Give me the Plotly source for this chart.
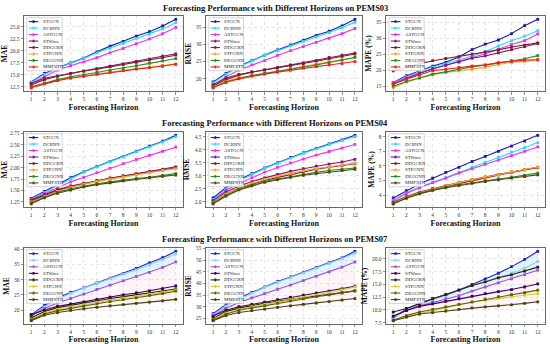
import plotly.graph_objects as go

W, H = 550, 344
horizons = list(range(1, 13))
models = ["STGCN", "DCRNN", "ASTGCN", "STWave", "DDGCRN", "STPGNN", "DEGGNN", "MMFSTN"]
datasets = ["PEMS03", "PEMS04", "PEMS07"]
metrics = ["MAE", "RMSE", "MAPE (%)"]

# ---- PEMS03 ----
p03_mae = {
    "STGCN":  [13.5, 15.3, 16.5, 17.5, 18.5, 19.8, 21.0, 22.0, 23.1, 24.0, 25.2, 26.6],
    "DCRNN":  [13.4, 15.1, 16.4, 17.4, 18.4, 19.6, 20.6, 21.6, 22.6, 23.5, 24.6, 25.9],
    "ASTGCN": [13.2, 14.6, 16.0, 16.9, 17.7, 18.6, 19.6, 20.5, 21.5, 22.5, 23.6, 24.9],
    "STWave": [13.2, 14.3, 14.8, 15.3, 15.8, 16.3, 16.8, 17.3, 17.8, 18.3, 18.9, 19.4],
    "DDGCRN": [12.9, 14.0, 14.7, 15.3, 15.8, 16.2, 16.7, 17.2, 17.6, 18.1, 18.6, 19.1],
    "STPGNN": [12.4, 13.2, 13.9, 14.4, 14.8, 15.2, 15.6, 16.0, 16.3, 16.6, 17.0, 17.3],
    "DEGGNN": [12.5, 13.3, 14.0, 14.6, 15.0, 15.5, 16.0, 16.4, 16.9, 17.4, 17.9, 18.4],
    "MMFSTN": [12.3, 13.1, 13.8, 14.3, 14.7, 15.1, 15.5, 15.9, 16.2, 16.5, 16.8, 17.2],
}
p03_rmse = {
    "STGCN":  [19.0, 21.5, 23.6, 25.3, 26.9, 28.4, 29.9, 31.3, 32.7, 33.9, 35.5, 37.4],
    "DCRNN":  [18.7, 21.3, 23.4, 25.2, 26.8, 28.2, 29.6, 31.0, 32.2, 33.5, 35.0, 36.5],
    "ASTGCN": [18.0, 20.5, 22.5, 24.0, 25.3, 26.8, 28.2, 29.4, 30.6, 31.8, 33.2, 34.7],
    "STWave": [18.2, 20.2, 21.2, 22.0, 22.6, 23.3, 24.0, 24.6, 25.3, 26.2, 26.9, 27.5],
    "DDGCRN": [17.8, 19.7, 21.0, 21.9, 22.5, 23.1, 23.8, 24.4, 25.1, 25.8, 26.5, 27.2],
    "STPGNN": [17.5, 19.2, 20.2, 20.9, 21.6, 22.3, 23.0, 23.6, 24.3, 24.9, 25.5, 26.2],
    "DEGGNN": [17.4, 19.0, 20.0, 20.9, 21.5, 22.2, 22.8, 23.4, 24.0, 24.7, 25.4, 26.2],
    "MMFSTN": [17.3, 18.9, 19.9, 20.7, 21.3, 21.9, 22.5, 23.1, 23.5, 24.0, 24.4, 25.0],
}
p03_mape = {
    "STGCN":  [16.2, 18.3, 19.8, 21.3, 22.5, 24.2, 26.5, 28.2, 29.5, 31.5, 34.0, 36.0],
    "DCRNN":  [16.0, 17.9, 19.6, 21.0, 22.0, 23.2, 24.5, 25.9, 27.6, 29.3, 30.7, 32.4],
    "ASTGCN": [16.0, 17.6, 19.2, 20.4, 21.6, 22.7, 23.9, 25.2, 26.6, 28.1, 29.3, 31.4],
    "STWave": [15.6, 17.4, 19.0, 20.5, 21.6, 22.6, 23.8, 24.5, 25.5, 26.5, 27.4, 28.4],
    "DDGCRN": [19.8, 21.0, 22.0, 23.0, 23.7, 24.2, 25.1, 25.7, 26.4, 27.3, 27.9, 28.6],
    "STPGNN": [14.5, 16.3, 17.5, 18.6, 19.3, 19.8, 20.2, 20.9, 21.8, 22.5, 22.8, 23.3],
    "DEGGNN": [15.0, 16.5, 17.6, 18.8, 19.5, 20.3, 21.1, 21.6, 22.3, 23.0, 23.6, 24.6],
    "MMFSTN": [15.8, 17.2, 18.5, 19.9, 20.3, 20.9, 21.3, 21.7, 22.4, 22.8, 23.2, 23.3],
}
# ---- PEMS04 ----
p04_mae = {
    "STGCN":  [1.33, 1.48, 1.62, 1.78, 1.91, 2.03, 2.14, 2.25, 2.36, 2.47, 2.58, 2.71],
    "DCRNN":  [1.31, 1.46, 1.61, 1.76, 1.90, 2.02, 2.13, 2.24, 2.35, 2.45, 2.56, 2.68],
    "ASTGCN": [1.30, 1.43, 1.56, 1.69, 1.79, 1.89, 1.99, 2.09, 2.18, 2.27, 2.36, 2.45],
    "STWave": [1.29, 1.41, 1.52, 1.60, 1.66, 1.72, 1.77, 1.82, 1.87, 1.92, 1.96, 2.02],
    "DDGCRN": [1.27, 1.39, 1.50, 1.58, 1.65, 1.71, 1.77, 1.82, 1.86, 1.91, 1.95, 2.00],
    "STPGNN": [1.25, 1.37, 1.48, 1.57, 1.64, 1.70, 1.75, 1.80, 1.84, 1.89, 1.94, 1.98],
    "DEGGNN": [1.23, 1.35, 1.46, 1.54, 1.60, 1.65, 1.69, 1.73, 1.76, 1.79, 1.83, 1.87],
    "MMFSTN": [1.21, 1.34, 1.44, 1.51, 1.58, 1.63, 1.67, 1.71, 1.75, 1.78, 1.81, 1.84],
}
p04_rmse = {
    "STGCN":  [2.15, 2.55, 2.85, 3.08, 3.30, 3.50, 3.70, 3.88, 4.05, 4.22, 4.37, 4.55],
    "DCRNN":  [2.10, 2.50, 2.80, 3.05, 3.28, 3.48, 3.68, 3.86, 4.03, 4.20, 4.35, 4.50],
    "ASTGCN": [2.05, 2.45, 2.70, 2.93, 3.14, 3.32, 3.49, 3.64, 3.79, 3.93, 4.06, 4.20],
    "STWave": [2.05, 2.38, 2.60, 2.78, 2.92, 3.05, 3.17, 3.27, 3.37, 3.45, 3.53, 3.63],
    "DDGCRN": [1.98, 2.30, 2.52, 2.68, 2.82, 2.94, 3.05, 3.16, 3.25, 3.33, 3.40, 3.46],
    "STPGNN": [1.97, 2.30, 2.55, 2.72, 2.86, 2.98, 3.09, 3.19, 3.28, 3.35, 3.42, 3.48],
    "DEGGNN": [1.95, 2.25, 2.48, 2.64, 2.78, 2.88, 2.97, 3.06, 3.13, 3.20, 3.25, 3.30],
    "MMFSTN": [1.93, 2.22, 2.46, 2.62, 2.75, 2.85, 2.94, 3.02, 3.08, 3.14, 3.20, 3.25],
}
p04_mape = {
    "STGCN":  [3.80, 4.30, 4.75, 5.15, 5.55, 5.90, 6.30, 6.65, 7.00, 7.35, 7.70, 8.10],
    "DCRNN":  [3.65, 4.15, 4.55, 4.85, 5.20, 5.55, 5.90, 6.25, 6.60, 6.95, 7.25, 7.60],
    "ASTGCN": [3.60, 4.10, 4.50, 4.85, 5.15, 5.50, 5.80, 6.10, 6.40, 6.70, 7.00, 7.30],
    "STWave": [3.50, 3.90, 4.20, 4.45, 4.65, 4.85, 5.05, 5.25, 5.42, 5.58, 5.75, 5.90],
    "DDGCRN": [3.50, 3.85, 4.15, 4.40, 4.60, 4.80, 5.00, 5.20, 5.38, 5.55, 5.72, 5.90],
    "STPGNN": [3.45, 3.85, 4.15, 4.40, 4.65, 4.85, 5.05, 5.22, 5.40, 5.58, 5.75, 5.92],
    "DEGGNN": [3.40, 3.80, 4.10, 4.35, 4.55, 4.70, 4.85, 4.98, 5.10, 5.22, 5.35, 5.50],
    "MMFSTN": [3.40, 3.78, 4.08, 4.32, 4.50, 4.66, 4.80, 4.93, 5.05, 5.16, 5.27, 5.38],
}
# ---- PEMS07 ----
p07_mae = {
    "STGCN":  [18.5, 21.5, 24.0, 25.8, 27.3, 28.9, 30.5, 32.0, 33.7, 35.5, 37.2, 39.3],
    "DCRNN":  [18.2, 21.0, 23.5, 25.5, 27.2, 28.8, 30.3, 31.8, 33.2, 34.8, 36.6, 38.5],
    "ASTGCN": [18.0, 20.5, 22.3, 23.8, 25.2, 26.8, 28.2, 29.6, 31.0, 32.4, 34.0, 35.8],
    "STWave": [18.5, 20.0, 21.2, 22.0, 22.7, 23.5, 24.2, 25.0, 25.6, 26.3, 27.0, 27.9],
    "DDGCRN": [17.5, 19.5, 20.8, 21.6, 22.4, 23.1, 23.8, 24.4, 25.0, 25.6, 26.2, 26.9],
    "STPGNN": [17.0, 19.0, 20.2, 21.0, 21.8, 22.5, 23.2, 23.9, 24.5, 25.2, 25.9, 26.6],
    "DEGGNN": [16.8, 18.7, 19.8, 20.6, 21.3, 22.0, 22.8, 23.4, 24.0, 24.8, 25.4, 26.2],
    "MMFSTN": [16.5, 18.3, 19.2, 19.9, 20.4, 20.9, 21.4, 21.8, 22.2, 22.6, 23.0, 23.5],
}
p07_rmse = {
    "STGCN":  [27.0, 31.0, 33.8, 36.2, 38.5, 40.8, 42.8, 44.8, 46.8, 48.8, 51.0, 53.8],
    "DCRNN":  [26.5, 30.3, 33.2, 35.8, 38.3, 40.5, 42.5, 44.5, 46.5, 48.5, 50.7, 53.0],
    "ASTGCN": [26.0, 29.3, 31.8, 33.8, 35.6, 37.5, 39.3, 41.2, 43.0, 45.0, 47.0, 49.2],
    "STWave": [26.0, 28.5, 30.0, 31.0, 32.0, 33.0, 34.0, 35.0, 35.8, 36.7, 37.7, 38.8],
    "DDGCRN": [25.0, 28.0, 29.4, 30.5, 31.5, 32.3, 33.2, 33.9, 34.6, 35.3, 36.0, 36.8],
    "STPGNN": [24.5, 27.2, 28.8, 30.0, 31.0, 32.0, 33.0, 34.0, 35.0, 36.0, 37.2, 38.5],
    "DEGGNN": [24.3, 26.8, 28.5, 29.5, 30.5, 31.5, 32.5, 33.4, 34.3, 35.1, 36.0, 36.8],
    "MMFSTN": [24.0, 26.2, 27.5, 28.3, 29.0, 29.7, 30.4, 31.0, 31.6, 32.2, 32.8, 33.5],
}
p07_mape = {
    "STGCN":  [8.5, 10.2, 11.3, 12.2, 13.0, 13.9, 15.0, 16.1, 17.2, 18.5, 19.9, 21.5],
    "DCRNN":  [8.3, 10.0, 11.0, 12.0, 12.8, 13.8, 14.8, 15.6, 16.4, 17.2, 18.2, 19.5],
    "ASTGCN": [8.7, 9.9, 10.8, 11.5, 12.2, 12.8, 13.7, 14.5, 15.3, 16.1, 16.9, 17.8],
    "STWave": [8.8, 9.9, 10.7, 11.2, 11.7, 12.2, 12.7, 13.2, 13.6, 14.0, 14.5, 15.1],
    "DDGCRN": [9.6, 10.3, 11.2, 12.2, 13.0, 13.9, 14.8, 15.5, 16.3, 16.9, 17.6, 18.4],
    "STPGNN": [7.9, 8.7, 9.3, 9.9, 10.5, 11.0, 11.5, 11.9, 12.3, 12.6, 12.9, 13.2],
    "DEGGNN": [8.0, 8.9, 9.6, 10.1, 10.6, 11.1, 11.6, 12.1, 12.6, 13.0, 13.4, 13.9],
    "MMFSTN": [7.9, 8.6, 9.2, 9.5, 9.8, 10.1, 10.4, 10.6, 10.8, 11.0, 11.3, 11.6],
}

grid_data = [
    [p03_mae, p03_rmse, p03_mape],
    [p04_mae, p04_rmse, p04_mape],
    [p07_mae, p07_rmse, p07_mape],
]
row_colors = [
    ["#1a1ab0", "#22e0f0", "#f030f0", "#7a1a7a", "#8a1a2a", "#ffa020", "#209020", "#f02020"],
    ["#1a1ab0", "#22e0f0", "#f030f0", "#7a1a7a", "#8a1a2a", "#ffa020", "#209020", "#5a4510"],
    ["#2020d0", "#90d0f0", "#a050e0", "#400060", "#302010", "#d8d020", "#606000", "#504010"],
]
tick_cfg = [
    [(2.5, ".1f"), (5, "d"), (5, "d")],
    [(0.25, ".2f"), (0.5, ".1f"), (1, "d")],
    [(5, "d"), (5, "d"), (2.5, ".1f")],
]

# plot-area pixel boxes
col_px = [(24, 183), (206, 362), (386, 545)]
row_px = [(14, 90), (131, 207), (248, 325)]
title_px = [6, 122, 239]

FONT = "Liberation Serif, Times New Roman, serif"
fig = go.Figure()
layout = dict(
    width=W, height=H, margin=dict(l=0, r=0, t=0, b=0),
    paper_bgcolor="white", plot_bgcolor="white", showlegend=False,
    font=dict(family=FONT, size=6, color="#222"),
)
annotations, shapes = [], []

for r in range(3):
    annotations.append(dict(
        text="<b>Forecasting Performance with Different Horizons on %s</b>" % datasets[r],
        x=0.5, y=1 - title_px[r] / H, xref="paper", yref="paper",
        showarrow=False, font=dict(size=8.5, family=FONT, color="#111"),
        xanchor="center", yanchor="middle"))
    for c in range(3):
        k = r * 3 + c + 1
        xa = "x" if k == 1 else "x%d" % k
        ya = "y" if k == 1 else "y%d" % k
        data = grid_data[r][c]
        allv = [v for m in models for v in data[m]]
        lo, hi = min(allv), max(allv)
        pad = 0.05 * (hi - lo)
        x0, x1 = col_px[c]
        y0, y1 = row_px[r]
        dt, fmt = tick_cfg[r][c]
        axis_common = dict(
            showline=True, linecolor="#444", linewidth=0.8, mirror=True,
            ticks="outside", ticklen=2.5, tickwidth=0.6, tickcolor="#444",
            showgrid=True, gridcolor="#d4d4d4", griddash="dot", gridwidth=0.6,
            zeroline=False, tickfont=dict(size=5.5, family=FONT, color="#333"),
        )
        layout["xaxis" + ("" if k == 1 else str(k))] = dict(
            axis_common, domain=[x0 / W, x1 / W], anchor=ya,
            range=[0.45, 12.55], tickmode="array", tickvals=horizons,
            title=dict(text="<b>Forecasting Horizon</b>", font=dict(size=8, family=FONT, color="#111"), standoff=3),
        )
        layout["yaxis" + ("" if k == 1 else str(k))] = dict(
            axis_common, domain=[1 - y1 / H, 1 - y0 / H], anchor=xa,
            range=[lo - pad, hi + pad], dtick=dt, tickformat=fmt,
            title=dict(text="<b>%s</b>" % metrics[c], font=dict(size=7.5, family=FONT, color="#111"), standoff=3),
        )
        cols = row_colors[r]
        # subtle shaded bands (rows 2 and 3)
        if r == 2:
            bands = [("STGCN", "ASTGCN", "rgba(140,210,245,0.25)"),
                     ("ASTGCN", "MMFSTN", "rgba(245,170,200,0.12)")]
        elif r == 1:
            bands = [("STWave", "MMFSTN", "rgba(245,170,200,0.10)")]
        else:
            bands = []
        for a, b, fc in bands:
            fig.add_trace(go.Scatter(x=horizons, y=data[a], mode="lines",
                                     line=dict(width=0, color="rgba(0,0,0,0)"),
                                     xaxis=xa, yaxis=ya, hoverinfo="skip"))
            fig.add_trace(go.Scatter(x=horizons, y=data[b], mode="lines",
                                     line=dict(width=0, color="rgba(0,0,0,0)"),
                                     fill="tonexty", fillcolor=fc,
                                     xaxis=xa, yaxis=ya, hoverinfo="skip"))
        for i, m in enumerate(models):
            fig.add_trace(go.Scatter(
                x=horizons, y=data[m], mode="lines+markers", name=m,
                line=dict(color=cols[i], width=1.1),
                marker=dict(symbol="square", size=2.8, color=cols[i]),
                xaxis=xa, yaxis=ya))
        # custom compact legend (inside top-left)
        xd, yd = xa + " domain", ya + " domain"
        lx0, lx1 = 0.018, 0.24
        ly1 = 0.975
        step = 0.086
        ly0 = ly1 - step * 8 - 0.015
        shapes.append(dict(type="rect", xref=xd, yref=yd, x0=lx0, x1=lx1, y0=ly0, y1=ly1,
                           line=dict(color="#bbb", width=0.6), fillcolor="rgba(255,255,255,0.85)", layer="above"))
        for i, m in enumerate(models):
            yy = ly1 - 0.008 - step * (i + 0.5)
            shapes.append(dict(type="line", xref=xd, yref=yd, x0=0.03, x1=0.09, y0=yy, y1=yy,
                               line=dict(color=cols[i], width=1.1), layer="above"))
            shapes.append(dict(type="rect", xref=xd, yref=yd, x0=0.054, x1=0.066,
                               y0=yy - 0.018, y1=yy + 0.018,
                               line=dict(width=0), fillcolor=cols[i], layer="above"))
            annotations.append(dict(text=m, xref=xd, yref=yd, x=0.105, y=yy,
                                    xanchor="left", yanchor="middle", showarrow=False,
                                    font=dict(size=4.8, family=FONT, color="#222")))

layout["annotations"] = annotations
layout["shapes"] = shapes
fig.update_layout(**layout)
fig.write_html(
    "out.html",
    config={"displayModeBar": False, "staticPlot": True},
    post_script="document.body.style.margin='0';document.body.style.overflow='hidden';",
)
